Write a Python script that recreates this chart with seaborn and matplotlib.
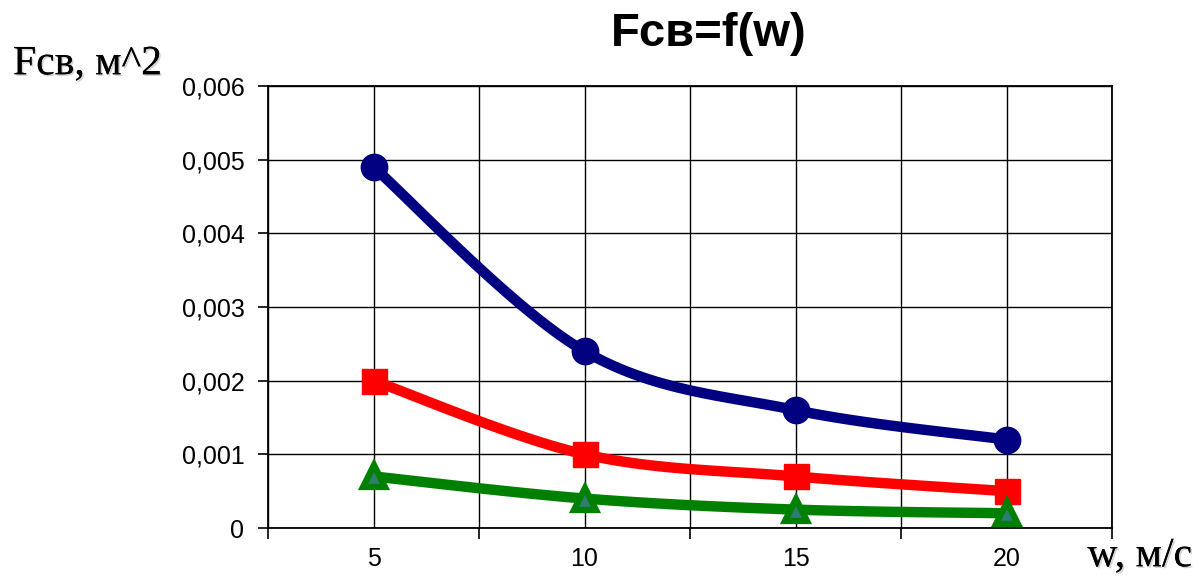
import numpy as np
import pandas as pd
import matplotlib
matplotlib.use("Agg")
import matplotlib.pyplot as plt
import matplotlib.patheffects as pe
import seaborn as sns

categories = ["5", "10", "15", "20"]
blue_vals = [0.0049, 0.0024, 0.0016, 0.0012]
red_vals = [0.0020, 0.0010, 0.0007, 0.0005]
green_vals = [0.0007, 0.0004, 0.00025, 0.0002]
y_ticks = [0, 0.001, 0.002, 0.003, 0.004, 0.005, 0.006]
y_tick_labels = ["0", "0,001", "0,002", "0,003", "0,004", "0,005", "0,006"]
title = "Fсв=f(w)"
ylabel = "Fсв, м^2"
xlabel = "w, м/с"

sns.set_theme(style="white")
plt.rcParams['font.family'] = ['Liberation Sans', 'DejaVu Sans']
plt.rcParams['text.color'] = 'black'


def smooth(xs, ys, n=40):
    xs = np.asarray(xs, float)
    ys = np.asarray(ys, float)
    P = np.column_stack([xs, ys])
    P = np.vstack([P[0], P, P[-1]])
    out = []
    for i in range(1, len(P) - 2):
        p0, p1, p2, p3 = P[i - 1], P[i], P[i + 1], P[i + 2]
        c1 = p1 + (p2 - p0) / 6.0
        c2 = p2 - (p3 - p1) / 6.0
        t = np.linspace(0, 1, n)[:, None]
        seg = ((1 - t) ** 3) * p1 + 3 * ((1 - t) ** 2) * t * c1 + 3 * (1 - t) * t ** 2 * c2 + t ** 3 * p2
        out.append(seg if i == 1 else seg[1:])
    out = np.vstack(out)
    return out[:, 0], out[:, 1]


fig = plt.figure(figsize=(11.99, 5.81), dpi=100)
ax = fig.add_axes([268 / 1199, 53 / 581, (1112 - 268) / 1199, (528 - 86) / 581])

xpos = np.arange(len(categories))
series = [
    (blue_vals, "#000080", "o", "#000080", "#000080", 19),
    (red_vals, "#FF0000", "s", "#FF0000", "#FF0000", 18),
    (green_vals, "#008000", "^", "#2E7D6E", "#008000", 16),
]

for vals, col, mk, fc, ec, ms in series:
    sx, sy = smooth(xpos, vals)
    df = pd.DataFrame({"x": sx, "y": sy})
    sns.lineplot(data=df, x="x", y="y", ax=ax, color=col, linewidth=7.5,
                 sort=False, estimator=None, solid_capstyle="round", zorder=3)
    ax.plot(xpos, vals, linestyle="none", marker=mk, markersize=ms,
            markerfacecolor=fc, markeredgecolor=ec,
            markeredgewidth=4.5 if mk == "^" else 1,
            zorder=4, clip_on=False)

ax.set_xlim(-0.5, len(categories) - 0.5)
ax.set_ylim(0, 0.006)

ax.set_xticks(np.arange(-0.5, len(categories), 1.0))
ax.set_xticklabels([])
ax.set_xticks(xpos, minor=True)
ax.set_xticklabels(categories, minor=True)
ax.tick_params(axis="x", which="major", length=8, width=1.2, color="black", direction="out", bottom=True)
ax.tick_params(axis="x", which="minor", length=0, pad=14, labelsize=18, labelcolor="black")
ax.set_yticks(y_ticks)
ax.set_yticklabels(y_tick_labels)
ax.tick_params(axis="y", which="major", length=7, width=1.2, color="black", direction="out",
               left=True, pad=10, labelsize=18, labelcolor="black")

ax.grid(True, which="major", axis="both", color="black", linewidth=1.0)
ax.grid(True, which="minor", axis="x", color="black", linewidth=1.0)
ax.set_axisbelow(True)
for s in ax.spines.values():
    s.set_visible(True)
    s.set_color("black")
    s.set_linewidth(1.3)

ax.set_xlabel("")
ax.set_ylabel("")

shadow = [pe.withSimplePatchShadow(offset=(1.2, -1.2), shadow_rgbFace="#aaaaaa", alpha=0.5), pe.Normal()]
fig.text(709 / 1199, 1 - 34 / 581, title, ha="center", va="center", fontsize=34,
         fontweight="bold", color="black", family=["Liberation Sans", "DejaVu Sans"])
fig.text(13 / 1199, 1 - 64 / 581, ylabel, ha="left", va="center", fontsize=30, color="black",
         family=["Liberation Serif", "DejaVu Serif"], path_effects=shadow)
fig.text(1192 / 1199, 1 - 556 / 581, xlabel, ha="right", va="center", fontsize=30, color="black",
         family=["Liberation Serif", "DejaVu Serif"], path_effects=shadow)

fig.savefig("out.png", dpi=100)
